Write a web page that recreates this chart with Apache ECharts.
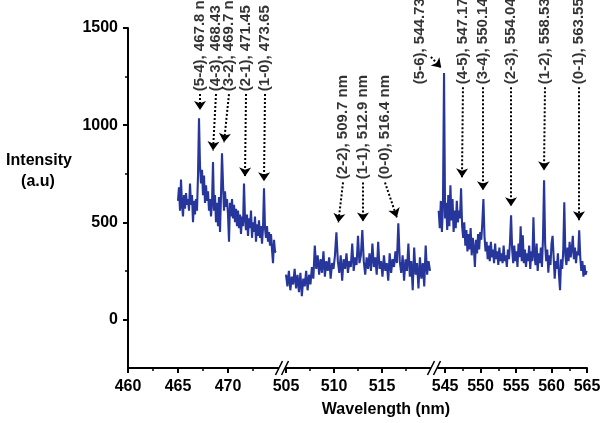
<!DOCTYPE html>
<html>
<head>
<meta charset="utf-8">
<script src="https://cdn.jsdelivr.net/npm/echarts@6/dist/echarts.min.js"></script>
<style>
html,body{margin:0;padding:0;background:#fff;}
#chart{width:603px;height:423px;}
</style>
</head>
<body>
<div id="chart"></div>
<script>
// ---------- data ----------
const seg1 = [[465.0,610],[465.1,680],[465.2,560],[465.3,720],[465.4,590],[465.5,530],[465.6,640],[465.7,570],[465.8,650],[465.9,590],
[466.0,620],[466.1,560],[466.2,700],[466.3,590],[466.4,640],[466.5,500],[466.6,610],[466.7,540],[466.8,620],[466.9,560],
[467.0,740],[467.1,1035],[467.2,790],[467.3,700],[467.4,770],[467.5,640],[467.6,740],[467.7,600],[467.8,690],[467.9,610],
[468.0,660],[468.1,560],[468.2,620],[468.3,530],[468.4,600],[468.5,810],[468.6,560],[468.7,640],[468.8,500],[468.9,600],
[469.0,480],[469.1,630],[469.2,450],[469.3,640],[469.4,855],[469.5,700],[469.6,560],[469.7,660],[469.8,580],[469.9,620],
[470.0,540],[470.1,400],[470.2,600],[470.3,530],[470.4,620],[470.5,520],[470.6,590],[470.7,500],[470.8,570],[470.9,480],
[471.0,560],[471.1,470],[471.2,540],[471.3,440],[471.4,530],[471.5,480],[471.6,700],[471.7,520],[471.8,460],[471.9,540],
[472.0,430],[472.1,520],[472.2,470],[472.3,560],[472.4,420],[472.5,500],[472.6,450],[472.7,530],[472.8,400],[472.9,490],
[473.0,430],[473.1,510],[473.2,420],[473.3,480],[473.4,390],[473.5,470],[473.6,675],[473.7,470],[473.8,420],[473.9,480],
[474.0,400],[474.1,450],[474.2,380],[474.3,440],[474.4,360],[474.5,290],[474.6,410],[474.7,350],[474.8,345]];

const seg2 = [[505.00,230],[505.15,170],[505.30,250],[505.45,150],[505.60,220],[505.75,180],[505.90,260],[506.05,160],[506.20,230],[506.35,140],
[506.50,240],[506.65,120],[506.80,210],[506.95,170],[507.10,250],[507.25,150],[507.40,230],[507.55,180],[507.70,270],[507.85,210],
[508.00,380],[508.15,260],[508.30,330],[508.45,230],[508.60,310],[508.75,240],[508.90,350],[509.05,220],[509.20,300],[509.35,250],
[509.50,320],[509.65,210],[509.80,290],[509.95,260],[510.10,330],[510.25,448],[510.40,300],[510.55,240],[510.70,330],[510.85,200],
[511.00,310],[511.15,260],[511.30,340],[511.45,240],[511.60,300],[511.75,270],[511.90,390],[512.05,250],[512.20,320],[512.35,280],
[512.50,430],[512.65,290],[512.80,330],[512.95,460],[513.10,300],[513.25,230],[513.40,320],[513.55,260],[513.70,340],[513.85,250],
[514.00,390],[514.15,270],[514.30,320],[514.45,230],[514.60,400],[514.75,260],[514.90,300],[515.05,220],[515.20,330],[515.35,250],
[515.50,290],[515.65,200],[515.80,340],[515.95,240],[516.10,310],[516.25,270],[516.40,350],[516.55,290],[516.70,495],[516.85,300],
[517.00,240],[517.15,330],[517.30,200],[517.45,310],[517.60,250],[517.75,390],[517.90,220],[518.05,300],[518.20,150],[518.35,370],
[518.50,230],[518.65,290],[518.80,160],[518.95,320],[519.10,210],[519.25,290],[519.40,170],[519.55,380],[519.70,230],[519.85,300],
[520.00,250]];

const seg3 = [[544.10,560],[544.25,470],[544.40,610],[544.55,450],[544.70,580],[544.85,1268],[545.00,520],[545.15,600],[545.30,460],[545.45,640],
[545.60,480],[545.75,690],[545.90,510],[546.05,620],[546.20,450],[546.35,560],[546.50,470],[546.65,610],[546.80,500],[546.95,560],
[547.10,520],[547.25,675],[547.40,480],[547.55,420],[547.70,500],[547.85,380],[548.00,460],[548.15,350],[548.30,440],[548.45,360],
[548.60,470],[548.75,330],[548.90,420],[549.05,370],[549.20,270],[549.35,410],[549.50,340],[549.65,440],[549.80,360],[549.95,450],
[550.10,410],[550.25,500],[550.40,620],[550.55,430],[550.70,350],[550.85,400],[551.00,310],[551.15,380],[551.30,300],[551.45,400],
[551.60,320],[551.75,360],[551.90,290],[552.05,390],[552.20,310],[552.35,350],[552.50,280],[552.65,370],[552.80,300],[552.95,340],
[553.10,290],[553.25,380],[553.40,300],[553.55,330],[553.70,270],[553.85,360],[554.00,310],[554.15,400],[554.30,536],[554.45,360],
[554.60,290],[554.75,380],[554.90,300],[555.05,350],[555.20,270],[555.35,390],[555.50,320],[555.65,480],[555.80,300],[555.95,433],
[556.10,290],[556.25,360],[556.40,270],[556.55,340],[556.70,300],[556.85,380],[557.00,260],[557.15,350],[557.30,300],[557.45,526],
[557.60,330],[557.75,280],[557.90,390],[558.05,250],[558.20,340],[558.35,290],[558.50,370],[558.65,270],[558.80,420],[558.95,716],
[559.10,390],[559.25,300],[559.40,360],[559.55,240],[559.70,330],[559.85,280],[560.00,390],[560.15,430],[560.30,320],[560.45,210],
[560.60,300],[560.75,260],[560.90,340],[561.05,230],[561.20,150],[561.35,310],[561.50,260],[561.65,350],[561.80,603],[561.95,330],
[562.10,280],[562.25,370],[562.40,300],[562.55,400],[562.70,320],[562.85,360],[563.00,430],[563.15,310],[563.30,370],[563.45,290],
[563.60,350],[563.75,330],[563.90,459],[564.05,320],[564.20,250],[564.35,300],[564.50,220],[564.65,280],[564.80,230],[564.95,250]];

// tick labels
const yTicks = [0, 500, 1000, 1500];
const yMinorTicks = [250, 750, 1250];
const seg1Ticks = [460, 465, 470];
const seg1Minor = [462.5, 467.5, 472.5];
const seg2Ticks = [505, 510, 515];
const seg2Minor = [507.5, 512.5, 517.5];
const seg3Ticks = [545, 550, 555, 560, 565];
const seg3Minor = [547.5, 552.5, 557.5, 562.5];

// annotations: label text, text anchor [wavelength, intensity], arrow [from, to]
const group1Labels = ['(5-4), 467.8 nm', '(4-3), 468.43 nm', '(3-2), 469.7 nm', '(2-1), 471.45 nm', '(1-0), 473.65 nm'];
const group1TextAt = [[467.2,1175],[468.8,1175],[470.1,1175],[471.8,1175],[473.7,1175]];
const group1Arrows = [[[467.2,1160],[467.2,1078]],[[468.8,1160],[468.5,870]],[[470.1,1160],[469.6,912]],[[471.8,1160],[471.7,736]],[[473.7,1160],[473.6,711]]];

const group2Labels = ['(2-2), 509.7 nm', '(1-1), 512.9 nm', '(0-0), 516.4 nm'];
const group2TextAt = [[510.94,722],[513.02,722],[515.31,722]];
const group2Arrows = [[[510.94,705],[510.45,499]],[[513.02,705],[513.02,504]],[[515.31,705],[516.55,525]]];

const group3Labels = ['(5-6), 544.73', '(4-5), 547.17', '(3-4), 550.14', '(2-3), 554.04', '(1-2), 558.53', '(0-1), 563.55'];
const group3TextAt = [[541.46,1211],[547.52,1211],[550.34,1211],[554.29,1211],[559.08,1211],[563.87,1211]];
const group3Arrows = [[[543.0,1351],[544.45,1295]],[[547.52,1195],[547.38,731]],[[550.34,1195],[550.34,665]],[[554.29,1195],[554.29,582]],[[559.08,1195],[558.94,767]],[[563.87,1195],[563.87,510]]];

// ---------- chart ----------
const FONT = '"Liberation Sans", Arial, Helvetica, sans-serif';
const chart = echarts.init(document.getElementById('chart'), null, {renderer: 'canvas'});

const Y_MIN = -250, Y_MAX = 1500;
const grids = [
  {left: 128, top: 28, width: 150, height: 340, outerBoundsMode: 'none'},
  {left: 286, top: 28, width: 144, height: 340, outerBoundsMode: 'none'},
  {left: 438, top: 28, width: 149, height: 340, outerBoundsMode: 'none'}
];
const plain = v => String(v);

function mainX(gi, min, max, ticks) {
  return {
    type: 'value', gridIndex: gi, min: min, max: max, position: 'bottom',
    axisLine: {show: true, onZero: false, lineStyle: {color: '#000', width: 2}},
    axisTick: {show: true, inside: false, length: 5, lineStyle: {color: '#000', width: 2}, customValues: ticks},
    axisLabel: {show: true, margin: 11, color: '#000', fontSize: 16, fontWeight: 'bold', fontFamily: FONT, customValues: ticks, formatter: plain},
    splitLine: {show: false}, minorTick: {show: false}
  };
}
function minorX(gi, min, max, ticks) {
  return {
    type: 'value', gridIndex: gi, min: min, max: max, position: 'bottom',
    axisLine: {show: false, onZero: false},
    axisTick: {show: true, inside: false, length: 3, lineStyle: {color: '#000', width: 1.5}, customValues: ticks},
    axisLabel: {show: false}, splitLine: {show: false}
  };
}

const xAxes = [
  mainX(0, 460, 475, seg1Ticks), minorX(0, 460, 475, seg1Minor),
  mainX(1, 505, 520, seg2Ticks), minorX(1, 505, 520, seg2Minor),
  mainX(2, 544, 565, seg3Ticks), minorX(2, 544, 565, seg3Minor)
];

const yAxes = [
  {type: 'value', gridIndex: 0, min: Y_MIN, max: Y_MAX, position: 'left',
   axisLine: {show: true, onZero: false, lineStyle: {color: '#000', width: 2}},
   axisTick: {show: true, inside: false, length: 5, lineStyle: {color: '#000', width: 2}, customValues: yTicks},
   axisLabel: {show: true, margin: 10, color: '#000', fontSize: 16, fontWeight: 'bold', fontFamily: FONT, customValues: yTicks, formatter: plain},
   splitLine: {show: false}},
  {type: 'value', gridIndex: 0, min: Y_MIN, max: Y_MAX, position: 'left', offset: 0,
   axisLine: {show: false, onZero: false},
   axisTick: {show: true, inside: false, length: 3, lineStyle: {color: '#000', width: 1.5}, customValues: yMinorTicks},
   axisLabel: {show: false}, splitLine: {show: false}},
  {type: 'value', gridIndex: 1, min: Y_MIN, max: Y_MAX, show: false},
  {type: 'value', gridIndex: 2, min: Y_MIN, max: Y_MAX, show: false}
];

function spectrum(data, xi, yi) {
  return {
    type: 'line', data: data, xAxisIndex: xi, yAxisIndex: yi,
    symbol: 'none', showSymbol: false, silent: true,
    lineStyle: {color: '#26369a', width: 2.1}, animation: false, z: 3
  };
}
function arrows(list, xi, yi) {
  return {
    type: 'lines', coordinateSystem: 'cartesian2d', xAxisIndex: xi, yAxisIndex: yi,
    clip: false, silent: true, animation: false, z: 4,
    symbol: ['none', 'arrow'], symbolSize: 9,
    lineStyle: {color: '#000', width: 2, type: 'dotted', opacity: 1, curveness: 0},
    data: list.map(a => ({coords: a}))
  };
}
function labels(texts, pos, xi, yi) {
  return {
    type: 'scatter', xAxisIndex: xi, yAxisIndex: yi, clip: false, silent: true, animation: false, z: 5,
    symbolSize: 0.1, itemStyle: {color: 'rgba(0,0,0,0)'},
    label: {show: true, position: 'inside', rotate: 90, align: 'left', verticalAlign: 'middle',
            formatter: '{b}', color: '#000', fontSize: 15, fontWeight: 'bold', fontFamily: FONT,
            textBorderWidth: 0},
    data: texts.map((t, i) => ({name: t, value: pos[i]}))
  };
}

chart.setOption({
  animation: false,
  backgroundColor: '#fff',
  grid: grids,
  xAxis: xAxes,
  yAxis: yAxes,
  series: [
    spectrum(seg1, 0, 0), spectrum(seg2, 2, 2), spectrum(seg3, 4, 3),
    arrows(group1Arrows, 0, 0), arrows(group2Arrows, 2, 2), arrows(group3Arrows, 4, 3),
    labels(group1Labels, group1TextAt, 0, 0), labels(group2Labels, group2TextAt, 2, 2), labels(group3Labels, group3TextAt, 4, 3)
  ]
});

// axis-break marks and axis titles
const axisY = chart.convertToPixel({yAxisIndex: 0}, Y_MIN);
const e1 = chart.convertToPixel({xAxisIndex: 0}, 475);
const s2 = chart.convertToPixel({xAxisIndex: 2}, 505);
const e2 = chart.convertToPixel({xAxisIndex: 2}, 520);
const s3 = chart.convertToPixel({xAxisIndex: 4}, 544);
function breakMark(cx) {
  const out = [];
  [-3, 3].forEach(o => {
    out.push({type: 'line', silent: true, z: 10,
      shape: {x1: cx + o - 3.5, y1: axisY + 7, x2: cx + o + 3.5, y2: axisY - 7},
      style: {stroke: '#000', lineWidth: 1.6}});
  });
  return out;
}
chart.setOption({
  graphic: [].concat(
    breakMark((e1 + s2) / 2),
    breakMark((e2 + s3) / 2),
    [
      {type: 'text', x: 39, y: 161, silent: true,
       style: {text: 'Intensity', align: 'center', verticalAlign: 'middle', fill: '#000', font: 'bold 16px ' + FONT}},
      {type: 'text', x: 38, y: 182, silent: true,
       style: {text: '(a.u)', align: 'center', verticalAlign: 'middle', fill: '#000', font: 'bold 16px ' + FONT}},
      {type: 'text', x: 386, y: 410, silent: true,
       style: {text: 'Wavelength (nm)', align: 'center', verticalAlign: 'middle', fill: '#000', font: 'bold 16px ' + FONT}}
    ]
  )
});
</script>
</body>
</html>
